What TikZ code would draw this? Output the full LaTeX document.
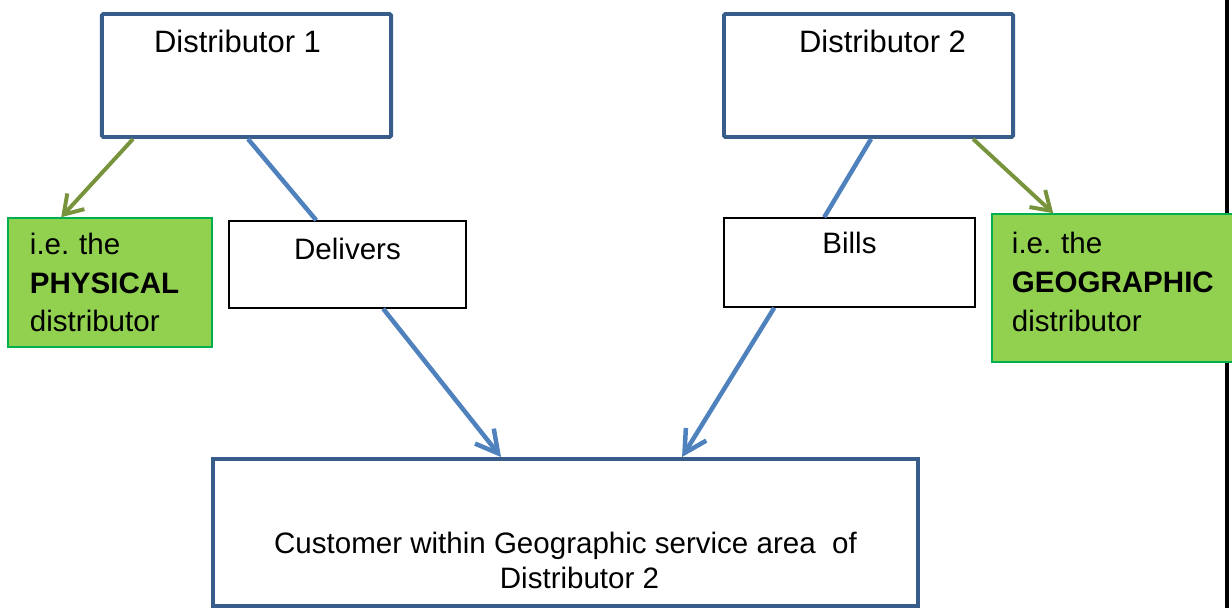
\documentclass[tikz,border=0pt]{standalone}
\usepackage{fontspec}
\setmainfont{Liberation Sans}
\usetikzlibrary{calc,arrows.meta}
\definecolor{distBlue}{HTML}{385D8A}
\definecolor{linkBlue}{HTML}{4F81BD}
\definecolor{noteGreen}{HTML}{92D050}
\definecolor{noteEdge}{HTML}{00B050}
\definecolor{pointGreen}{HTML}{77933C}

\begin{document}
\begin{tikzpicture}[x=0.025cm,y=-0.025cm,
  distbox/.style={draw=distBlue,line width=2.8pt,rounded corners=1pt,fill=white,
              inner sep=0pt,minimum width=7.225cm,
              text height=0.95cm,text depth=2.125cm,
              font=\fontsize{22}{26}\selectfont},
  actbox/.style={draw=black,line width=1.1pt,fill=white,inner sep=0pt,
              font=\fontsize{21}{26}\selectfont},
  notebox/.style={draw=noteEdge,line width=1.1pt,fill=noteGreen,
              inner ysep=0pt,align=left,
              font=\fontsize{21}{27.6}\selectfont},
  custbox/.style={draw=distBlue,line width=2.8pt,fill=white,inner sep=0pt,
              align=center,minimum width=17.625cm,minimum height=3.675cm,
              font=\fontsize{21}{24.9}\selectfont},
  link/.style={linkBlue,line width=3.2pt},
  linkarrow/.style={link,-{Straight Barb[length=0.55cm,width=0.6cm]}},
  pointer/.style={pointGreen,line width=2.8pt,
              -{Straight Barb[length=0.45cm,width=0.58cm]}}]
  \useasboundingbox (0,0) rectangle (1232,608);
  % page edge line behind the right note
  \draw[black,line width=2.2pt] (1227,0) -- (1227,608);

  \node[distbox] (dist1) at (246.5,75.5) {Distributor 1\kern0.45cm};
  \node[distbox] (dist2) at (868.5,75.5) {\kern0.7cm Distributor 2};

  \node[actbox,minimum width=5.925cm,text height=0.95cm,text depth=1.225cm]
    (deliv) at (347.5,264.5) {Delivers};
  \node[actbox,minimum width=6.275cm,text height=0.875cm,text depth=1.35cm]
    (bills) at (849.5,262.5) {Bills};

  \node[notebox,inner xsep=0.55cm,text width=4cm,minimum height=3.225cm]
    (phys) at (110,282.5) {i.e.\ the\\\textbf{PHYSICAL}\\distributor};
  \node[notebox,inner xsep=0.5cm,text width=5.2cm,minimum height=3.7cm]
    (geo) at (1116,288)
    {i.e.\ the\\\textbf{GEOGRAPHIC}\\distributor\rule[-0.3cm]{0pt}{0pt}};

  \node[custbox] (cust) at (565.5,532.5)
    {\rule{0pt}{1.925cm}Customer within Geographic service area~ of\\
     \hspace*{0.7cm}Distributor 2};

  % who does what
  \draw[link] ([xshift=3.7cm]dist1.south west) -- ([xshift=2.2cm]deliv.north west);
  \draw[linkarrow] ([xshift=3.875cm]deliv.south west) -- ([xshift=7.25cm]cust.north west);
  \draw[link] ([xshift=3.725cm]dist2.south west) -- ([xshift=2.525cm]bills.north west);
  \draw[linkarrow] ([xshift=1.275cm]bills.south west) -- ([xshift=11.775cm]cust.north west);

  % notes
  \draw[pointer] ([xshift=0.825cm]dist1.south west) -- ([xshift=1.35cm]phys.north west);
  \draw[pointer] ([xshift=6.275cm]dist2.south west) -- ([xshift=1.55cm]geo.north west);
\end{tikzpicture}
\end{document}
